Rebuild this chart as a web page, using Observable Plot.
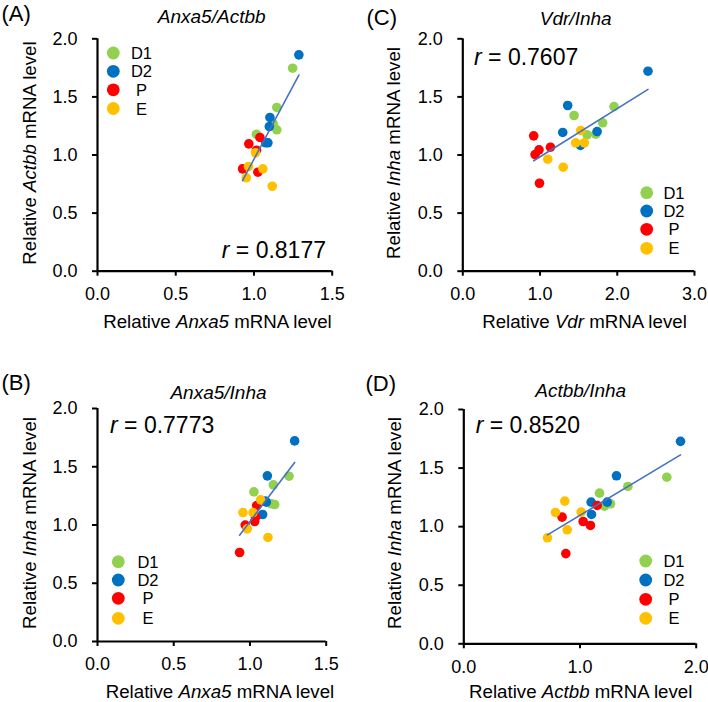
<!DOCTYPE html>
<html><head><meta charset="utf-8">
<script src="https://cdn.jsdelivr.net/npm/d3@7"></script>
<script src="https://cdn.jsdelivr.net/npm/@observablehq/plot@0.6"></script>
<style>
body{margin:0;background:#fff;}
#fig{position:relative;width:708px;height:702px;font-family:"Liberation Sans",Arial,sans-serif;}
#fig svg{position:absolute;}
</style></head><body><div id="fig"></div>
<script>
const groups = ["D1", "D2", "P", "E"];
const groupColors = ["#92D050", "#0070C0", "#FF0000", "#FFC000"];
const yTicks = [0, 0.5, 1, 1.5, 2];

// Panel A: Anxa5 (x) vs Actbb (y); rows = D1, D2, P, E
const aX = [[1.247, 1.146, 1.123, 1.146, 1.016], [1.287, 1.102, 1.098, 1.089, 1.075], [1.038, 0.967, 1.016, 0.927, 1.025], [1.010, 0.965, 1.057, 0.951, 1.117]];
const aY = [[1.747, 1.409, 1.268, 1.217, 1.179], [1.862, 1.323, 1.245, 1.105, 1.105], [1.151, 1.096, 1.041, 0.881, 0.852], [1.019, 0.901, 0.881, 0.804, 0.731]];
// Panel B: Anxa5 (x) vs Inha (y)
const bX = [[1.256, 1.153, 1.026, 1.140, 1.162], [1.293, 1.114, 1.107, 1.100, 1.083], [1.044, 1.037, 1.031, 0.969, 0.932], [1.070, 0.954, 1.020, 0.982, 1.118]];
const bY = [[1.419, 1.345, 1.285, 1.182, 1.176], [1.722, 1.422, 1.196, 1.205, 1.090], [1.167, 1.067, 1.030, 0.999, 0.764], [1.216, 1.107, 1.107, 0.967, 0.893]];
// Panel C: Vdr (x) vs Inha (y)
const cX = [[1.958, 1.811, 1.441, 1.609, 1.721], [2.398, 1.358, 1.294, 1.739, 1.523], [0.918, 1.135, 0.987, 0.936, 0.993], [1.527, 1.462, 1.574, 1.100, 1.300]];
const cY = [[1.417, 1.277, 1.340, 1.174, 1.179], [1.721, 1.426, 1.194, 1.202, 1.082], [1.165, 1.067, 1.045, 1.004, 0.757], [1.211, 1.105, 1.105, 0.964, 0.895]];
// Panel D: Actbb (x) vs Inha (y)
const dX = [[1.747, 1.412, 1.168, 1.211, 1.263], [1.865, 1.314, 1.096, 1.234, 1.099], [1.148, 0.846, 1.027, 1.090, 0.878], [0.869, 0.789, 1.010, 0.890, 0.720]];
const dY = [[1.422, 1.343, 1.286, 1.175, 1.195], [1.728, 1.434, 1.209, 1.209, 1.104], [1.181, 1.081, 1.044, 1.010, 0.770], [1.218, 1.121, 1.124, 0.973, 0.905]];

const panelLetters = ["(A)", "(C)", "(B)", "(D)"];
const panelTitles = ["Anxa5/Actbb", "Vdr/Inha", "Anxa5/Inha", "Actbb/Inha"];
const xGenes = ["Anxa5", "Vdr", "Anxa5", "Actbb"];
const yGenes = ["Actbb", "Inha", "Inha", "Inha"];
const rValues = ["0.8177", "0.7607", "0.7773", "0.8520"];
const xTickSets = [[0, 0.5, 1, 1.5], [0, 1, 2, 3], [0, 0.5, 1, 1.5], [0, 1, 2]];
const xSeries = [aX, cX, bX, dX];
const ySeries = [aY, cY, bY, dY];

// layout (positions only)
const layouts = [
  {left: 0, top: 0, mL: 97, mR: 22.3, mT: 38.3, mB: 80.3, letter: [1.5, 12.5], title: [211.7, 16], r: [326, 250, "end"], leg: [113.3, 141.5, [53, 71.3, 89.8, 108.5]], xl: [217.5, 320.5], yl: [29, 153]},
  {left: 354, top: 0, mL: 108.3, mR: 14, mT: 38.3, mB: 80.3, letter: [12.5, 16.5], title: [221.7, 18], r: [120, 56.7, "start"], leg: [292.7, 320, [192.7, 211, 229.3, 248.3]], xl: [230.5, 320.5], yl: [39, 153]},
  {left: 0, top: 351, mL: 97, mR: 28.3, mT: 57, mB: 61, letter: [1.5, 31], title: [218.5, 40.7], r: [110, 74, "start"], leg: [118.3, 148, [210.7, 229, 247.3, 267.3]], xl: [220, 340], yl: [29, 172]},
  {left: 354, top: 351, mL: 109.3, mR: 12.3, mT: 58, mB: 58.7, letter: [11.5, 32], title: [226.7, 39], r: [121.7, 74, "start"], leg: [291.7, 320, [210, 229, 248.3, 267.3]], xl: [226.7, 340], yl: [40, 172]}
];

const FONT = '"Liberation Sans", Arial, sans-serif';
const fig = document.getElementById("fig");

function addRich(g, x, y, parts, size, anchor, rotate) {
  const t = g.append("text")
    .attr("text-anchor", anchor)
    .attr("dominant-baseline", "central")
    .attr("font-size", size)
    .attr("font-family", FONT)
    .attr("fill", "black");
  if (rotate) t.attr("transform", `translate(${x},${y}) rotate(-90)`);
  else t.attr("x", x).attr("y", y);
  parts.forEach(([s, it]) => {
    const ts = t.append("tspan").text(s);
    if (it) ts.attr("font-style", "italic");
  });
  return t;
}

for (let p = 0; p < 4; p++) {
  const L = layouts[p];
  const rows = [];
  groups.forEach((g, i) => xSeries[p][i].forEach((x, j) => rows.push({x, y: ySeries[p][i][j], group: g})));
  const xt = xTickSets[p];
  const chart = Plot.plot({
    width: 354, height: 351,
    marginLeft: L.mL, marginRight: L.mR, marginTop: L.mT, marginBottom: L.mB,
    x: {domain: [0, xt[xt.length - 1]]},
    y: {domain: [0, 2]},
    color: {domain: groups, range: groupColors},
    style: {fontFamily: FONT, color: "black", background: "transparent", overflow: "visible"},
    marks: [
      Plot.axisX(xt, {tickSize: 5, tickPadding: 11, fontSize: 18, tickFormat: d3.format(".1f"), label: null, strokeWidth: 2}),
      Plot.axisY(yTicks, {tickSize: 5, tickPadding: 15, fontSize: 18, tickFormat: d3.format(".1f"), label: null, strokeWidth: 2}),
      Plot.ruleX([0], {strokeWidth: 2.2, stroke: "black"}),
      Plot.ruleY([0], {strokeWidth: 2.2, stroke: "black"}),
      Plot.dot(rows, {x: "x", y: "y", fill: "group", r: 4.8}),
      Plot.linearRegressionY(rows, {x: "x", y: "y", ci: 0, stroke: "#4472C4", strokeWidth: 1.6})
    ]
  });
  chart.style.left = L.left + "px";
  chart.style.top = L.top + "px";
  fig.appendChild(chart);
  const svg = d3.select(chart);
  const g = svg.append("g");
  addRich(g, L.letter[0], L.letter[1], [[panelLetters[p], false]], 22, "start");
  addRich(g, L.title[0], L.title[1], [[panelTitles[p], true]], 19, "middle");
  addRich(g, L.r[0], L.r[1], [["r", true], [" = " + rValues[p], false]], 23, L.r[2]);
  addRich(g, L.xl[0], L.xl[1], [["Relative ", false], [xGenes[p], true], [" mRNA level", false]], 18.7, "middle");
  addRich(g, L.yl[0], L.yl[1], [["Relative ", false], [yGenes[p], true], [" mRNA level", false]], 18.7, "middle", true);
  const color = chart.scale("color");
  groups.forEach((gr, i) => {
    g.append("circle").attr("cx", L.leg[0]).attr("cy", L.leg[2][i]).attr("r", 6.4).attr("fill", color.apply(gr));
    addRich(g, L.leg[1], L.leg[2][i], [[gr, false]], 16.5, "middle");
  });
}
</script></body></html>
